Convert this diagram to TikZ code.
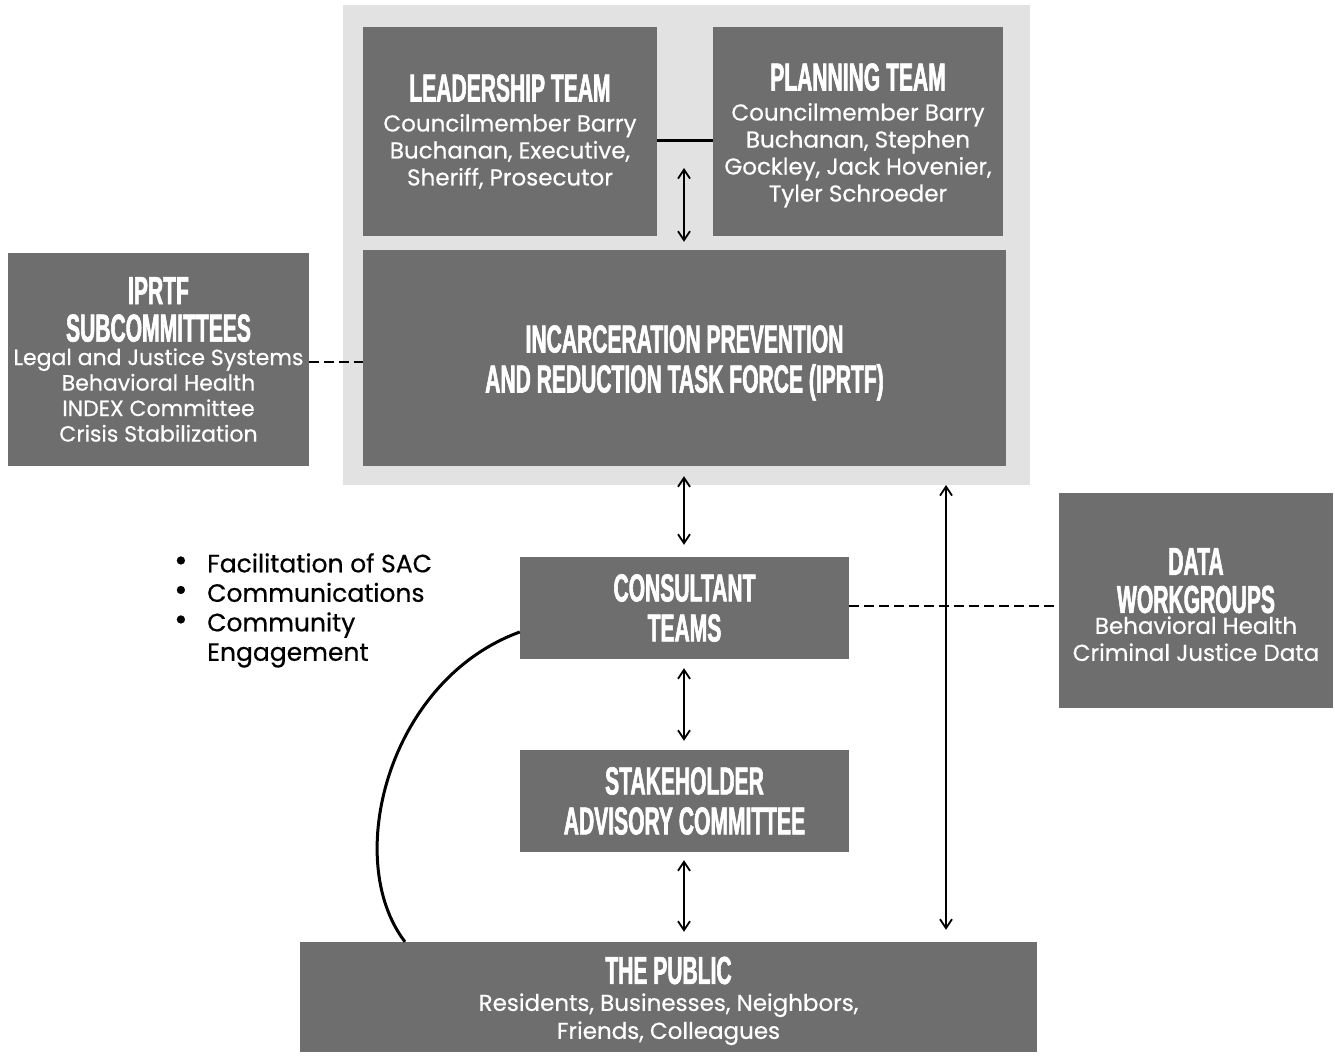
\documentclass[tikz,border=0pt]{standalone}
\usepackage{fontspec}
\setmainfont{Poppins}[FakeBold=0.5]
\newfontfamily\hf[FakeStretch=0.54,FakeBold=1.5]{Liberation Sans}
\usetikzlibrary{arrows.meta}
\definecolor{boxgray}{HTML}{6E6E6E}
\definecolor{lightbg}{HTML}{E2E2E2}
\tikzset{
  box/.style={fill=boxgray, text=white, align=center, inner sep=0pt, font=\fontsize{23}{27}\selectfont},
  dbl/.style={{Straight Barb[length=9pt,width=12pt]}-{Straight Barb[length=9pt,width=12pt]}, line width=1.8pt},
  dashconn/.style={line width=2.8pt, dash pattern=on 10pt off 5pt},
  solidconn/.style={line width=3pt},
}
\newcommand{\hd}[1]{{\hf\bfseries\fontsize{39}{40}\selectfont #1}}
\newcommand{\up}[1]{\rule{0pt}{#1}}
\newcommand{\bul}{\makebox[33pt][l]{\raisebox{1pt}{\scalebox{1.3}{\textbullet}}}}
\begin{document}
\lineskiplimit=-100pt\relax
\begin{tikzpicture}[x=1pt,y=-1pt]
\useasboundingbox (0,0) rectangle (1335,1055);
\fill[white] (0,0) rectangle (1335,1055);
\fill[lightbg] (343,5) rectangle (1030,485);

\node[box, minimum width=294pt, minimum height=209pt] (lead) at (510,131.5)
  {\hd{LEADERSHIP TEAM}\\[3pt]Councilmember Barry\\Buchanan, Executive,\\Sheriff, Prosecutor};
\node[box, minimum width=290pt, minimum height=209pt] (plan) at (858,131.5)
  {\up{35pt}\hd{PLANNING TEAM}\\[3pt]Councilmember Barry\\Buchanan, Stephen\\Gockley, Jack Hovenier,\\Tyler Schroeder};
\node[box, minimum width=643pt, minimum height=216pt] (iprtf) at (684.5,358)
  {\up{37pt}\hd{INCARCERATION PREVENTION}\\[13pt]\hd{AND REDUCTION TASK FORCE (IPRTF)}};
\node[box, minimum width=301pt, minimum height=213pt, font=\fontsize{22}{25.5}\selectfont] (sub) at (158.5,359.5)
  {\hd{IPRTF}\\[12pt]\hd{SUBCOMMITTEES}\\[-2pt]Legal and Justice Systems\\Behavioral Health\\INDEX Committee\\Crisis Stabilization};
\node[box, minimum width=329pt, minimum height=102pt] (cons) at (684.5,608)
  {\hd{CONSULTANT}\\[13pt]\hd{TEAMS}};
\node[box, minimum width=329pt, minimum height=102pt] (sac) at (684.5,801)
  {\hd{STAKEHOLDER}\\[13pt]\hd{ADVISORY COMMITTEE}};
\node[box, minimum width=737pt, minimum height=110pt] (pub) at (668.5,997)
  {\up{35pt}\hd{THE PUBLIC}\\[0pt]Residents, Businesses, Neighbors,\\[1pt]Friends, Colleagues};
\node[box, minimum width=274pt, minimum height=215pt] (data) at (1196,600.5)
  {\up{35pt}\hd{DATA}\\[11pt]\hd{WORKGROUPS}\\[-6pt]Behavioral Health\\Criminal Justice Data};

\node[anchor=north west, align=left, inner sep=0pt, font=\fontsize{25}{29.5}\selectfont] (bul) at (174,553)
  {\bul Facilitation of SAC\\
   \bul Communications\\
   \bul Community\\
   \hspace{33pt}Engagement};

% connectors
\draw[solidconn] (lead.east |- 0,140) -- (plan.west |- 0,140);
\coordinate (la) at (684,168);
\draw[dbl, shorten >=8pt] (la) -- (la |- iprtf.north);
\draw[dashconn] (sub.east |- 0,362) -- (iprtf.west |- 0,362);
\draw[dbl, shorten <=10pt, shorten >=12pt] (iprtf.south -| la) -- (cons.north -| la);
\draw[dashconn] (cons.east |- 0,606) -- (data.west |- 0,606);
\draw[dbl, shorten <=9pt, shorten >=9pt] (cons.south -| la) -- (sac.north -| la);
\draw[dbl, shorten <=8pt, shorten >=10pt] (sac.south -| la) -- (pub.north -| la);
\coordinate (lx) at (946,485);
\draw[dbl, shorten >=12pt] (lx) -- (pub.north -| lx);
\draw[solidconn] (cons.west |- 0,632) .. controls (388,680) and (342,860) .. (pub.north -| 405,0);
\end{tikzpicture}
\end{document}
